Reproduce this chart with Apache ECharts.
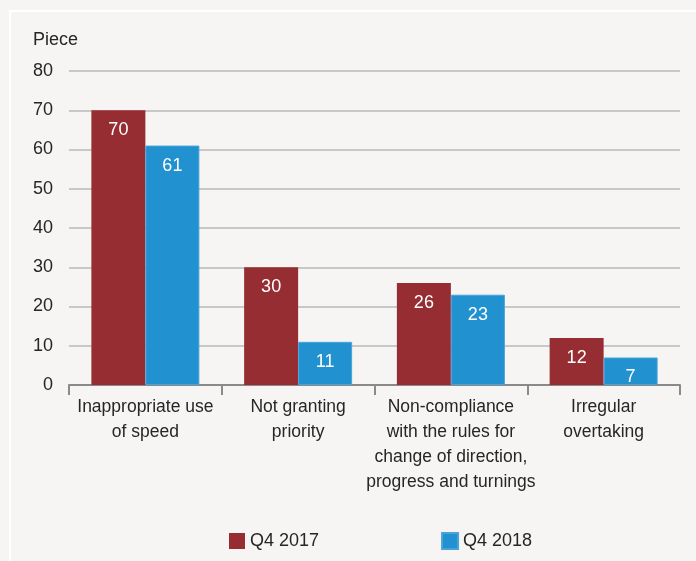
<!DOCTYPE html>
<html>
<head>
<meta charset="utf-8">
<script src="https://cdn.jsdelivr.net/npm/echarts@6/dist/echarts.min.js"></script>
<style>
  html, body { margin: 0; padding: 0; background: #f6f5f4; }
  #chart { width: 696px; height: 561px; }
</style>
</head>
<body>
<div id="chart"></div>
<script>
const categories = [
  'Inappropriate use\nof speed',
  'Not granting\npriority',
  'Non-compliance\nwith the rules for\nchange of direction,\nprogress and turnings',
  'Irregular\novertaking'
];
const q42017 = [70, 30, 26, 12];
const q42018 = [61, 11, 23, 7];
const yTicks = [0, 10, 20, 30, 40, 50, 60, 70, 80];

const font = '"Liberation Sans", Arial, sans-serif';
const textColor = '#262626';

const chart = echarts.init(document.getElementById('chart'));

const barLabel = {
  show: true,
  position: 'insideTop',
  distance: 11,
  color: '#ffffff',
  fontFamily: font,
  fontSize: 18
};

chart.setOption({
  backgroundColor: '#f6f5f4',
  animation: false,
  graphic: [
    {
      type: 'rect',
      shape: { x: 10, y: 11, width: 700, height: 560 },
      style: { fill: 'none', stroke: '#ffffff', lineWidth: 2 },
      silent: true
    },
    {
      type: 'text',
      left: 33,
      top: 31,
      style: { text: 'Piece', fill: textColor, font: '18px ' + font }
    }
  ],
  grid: { left: 69, right: 16, top: 71, bottom: 176 },
  legend: {
    bottom: 6,
    left: 224,
    itemWidth: 16,
    itemHeight: 16,
    itemGap: 122,
    icon: 'rect',
    textStyle: { color: textColor, fontFamily: font, fontSize: 18 },
    data: ['Q4 2017', 'Q4 2018']
  },
  xAxis: {
    type: 'category',
    data: categories,
    axisLine: { show: true, lineStyle: { color: '#8a8a8a', width: 2 } },
    axisTick: { show: true, length: 10, lineStyle: { color: '#8a8a8a', width: 2 } },
    axisLabel: {
      color: textColor,
      fontFamily: font,
      fontSize: 17.5,
      lineHeight: 25,
      margin: 10,
      interval: 0
    }
  },
  yAxis: {
    type: 'value',
    min: yTicks[0],
    max: yTicks[yTicks.length - 1],
    interval: 10,
    axisLine: { show: false },
    axisTick: { show: false },
    splitLine: { lineStyle: { color: '#c9c8c8', width: 2 } },
    axisLabel: { color: textColor, fontFamily: font, fontSize: 18, margin: 16 }
  },
  series: [
    {
      name: 'Q4 2017',
      type: 'bar',
      data: q42017,
      barWidth: 54,
      barGap: '0%',
      itemStyle: { color: '#952d33' },
      label: barLabel
    },
    {
      name: 'Q4 2018',
      type: 'bar',
      data: q42018,
      barWidth: 54,
      itemStyle: { color: '#2191d0', borderColor: '#4aa3d8', borderWidth: 1 },
      label: barLabel
    }
  ]
});
</script>
</body>
</html>
